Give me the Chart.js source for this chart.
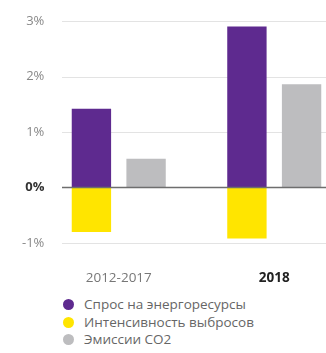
<!DOCTYPE html>
<html>
<head>
<meta charset="utf-8">
<script src="https://cdn.jsdelivr.net/npm/chart.js@4"></script>
<style>
  html, body { margin: 0; padding: 0; background: #fff; overflow: hidden; }
  #wrap { position: relative; width: 352px; height: 285px; }
  #legend { position: absolute; left: 63px; top: 296px; font-family: "Open Sans", sans-serif; font-size: 13.5px; color: #666; }
  #legend div { height: 17.5px; line-height: 17.5px; white-space: nowrap; }
  #legend span { display: inline-block; width: 11px; height: 11px; border-radius: 50%; vertical-align: -1px; margin-right: 10px; }
</style>
</head>
<body>
<div id="wrap"><canvas id="chart"></canvas></div>
<div id="legend"></div>
<script>
const periods = ["2012-2017", "2018"];
const seriesNames = ["Спрос на энергоресурсы", "Интенсивность выбросов", "Эмиссии CO2"];
const demand = [1.42, 2.9];
const intensity = [-0.8, -0.92];
const emissions = [0.52, 1.86];
const yTicks = [-1, 0, 1, 2, 3];
const colors = ["#5e2a8f", "#ffe500", "#bdbdbf"];

// gridlines start a bit right of the plot edge, zero line on top of bars
const gridPlugin = {
  id: "gridPlugin",
  beforeDatasetsDraw(chart) {
    const { ctx, chartArea, scales: { y } } = chart;
    ctx.save();
    ctx.strokeStyle = "#e3e3e3";
    ctx.lineWidth = 1;
    yTicks.forEach(v => {
      if (v === 0) return;
      const py = Math.round(y.getPixelForValue(v)) + 0.5;
      ctx.beginPath();
      ctx.moveTo(chartArea.left + 21, py);
      ctx.lineTo(chartArea.right, py);
      ctx.stroke();
    });
    ctx.restore();
  },
  afterDatasetsDraw(chart) {
    const { ctx, chartArea, scales: { y } } = chart;
    const py = y.getPixelForValue(0);
    ctx.save();
    ctx.strokeStyle = "#6e6e6e";
    ctx.lineWidth = 1.3;
    ctx.beginPath();
    ctx.moveTo(chartArea.left + 21, py);
    ctx.lineTo(chartArea.right, py);
    ctx.stroke();
    ctx.restore();
  }
};

const chart = new Chart(document.getElementById("chart"), {
  type: "bar",
  data: {
    labels: periods,
    datasets: [
      { label: seriesNames[0], data: demand, backgroundColor: colors[0], stack: "a" },
      { label: seriesNames[1], data: intensity, backgroundColor: colors[1], stack: "a" },
      { label: seriesNames[2], data: emissions, backgroundColor: colors[2], stack: "b" }
    ]
  },
  options: {
    responsive: true,
    maintainAspectRatio: false,
    animation: false,
    layout: { padding: { top: 21, left: 0, right: 0, bottom: 0 } },
    datasets: { bar: { categoryPercentage: 0.703, barPercentage: 0.72, borderWidth: 0 } },
    plugins: { legend: { display: false }, tooltip: { enabled: false } },
    scales: {
      x: {
        stacked: true,
        grid: { display: false },
        border: { display: false },
        afterFit(scale) { scale.height = 42; },
        ticks: {
          padding: 19,
          font: c => ({ family: "Open Sans", size: 13.5, weight: c.index === 1 ? "bold" : "normal" }),
          color: c => c.index === 1 ? "#222" : "#777"
        }
      },
      y: {
        stacked: true,
        min: -1,
        max: 3,
        afterFit(scale) { scale.width = 41; },
        afterBuildTicks(scale) { scale.ticks = yTicks.map(v => ({ value: v })); },
        grid: { display: false },
        border: { display: false },
        ticks: {
          mirror: true,
          crossAlign: "far",
          padding: -19,
          callback: v => v + "%",
          font: c => ({ family: "Open Sans", size: 13, weight: c.tick && c.tick.value === 0 ? "bold" : "normal" }),
          color: c => c.tick && c.tick.value === 0 ? "#333" : "#888"
        }
      }
    }
  },
  plugins: [gridPlugin]
});

const legend = document.getElementById("legend");
seriesNames.forEach((name, i) => {
  const row = document.createElement("div");
  row.innerHTML = '<span style="background:' + colors[i] + '"></span>' + name;
  legend.appendChild(row);
});
</script>
</body>
</html>
